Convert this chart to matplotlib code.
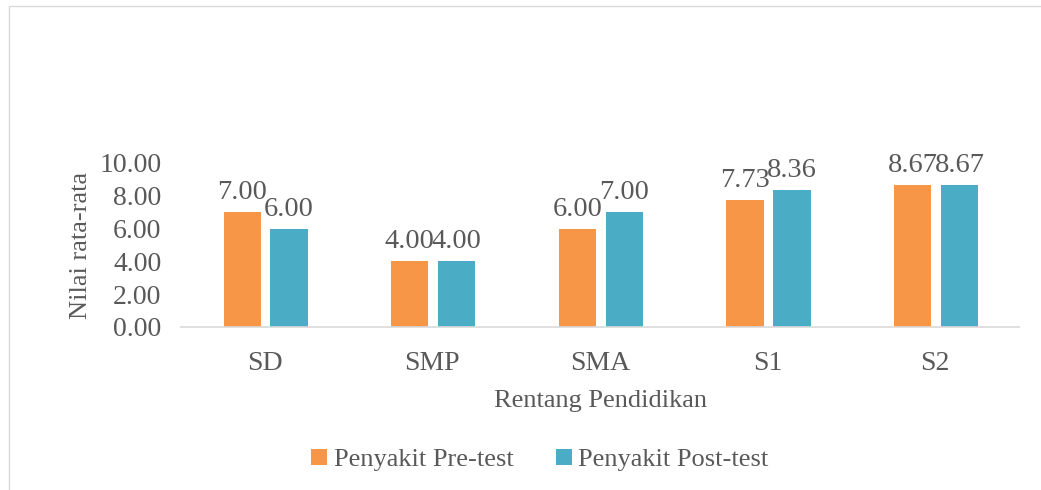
import numpy as np
import matplotlib.pyplot as plt
from matplotlib.patches import Rectangle

# Data
categories = ["SD", "SMP", "SMA", "S1", "S2"]
pre_test = [7.00, 4.00, 6.00, 7.73, 8.67]
post_test = [6.00, 4.00, 7.00, 8.36, 8.67]
y_ticks = [0, 2, 4, 6, 8, 10]

orange = "#F79646"
blue = "#4BACC6"
txt = "#595959"

plt.rcParams['font.family'] = ['Liberation Serif', 'DejaVu Serif']

fig = plt.figure(figsize=(10.41, 4.9), dpi=100)
fig.patches.append(Rectangle((9 / 1041, -0.1), 1.1, 1 - 6 / 490 + 0.1, transform=fig.transFigure,
                             fill=False, edgecolor="#D9D9D9", linewidth=1.0))

# axes placed in pixel terms
left, right, top, bottom = 181, 1019, 163, 327
ax = fig.add_axes([left / 1041, 1 - bottom / 490, (right - left) / 1041, (bottom - top) / 490])

x = np.arange(len(categories))
w = 0.222
b1 = ax.bar(x - 0.135, pre_test, w, color=orange, label="Penyakit Pre-test")
b2 = ax.bar(x + 0.145, post_test, w, color=blue, label="Penyakit Post-test")

for bars, vals in ((b1, pre_test), (b2, post_test)):
    for r, v in zip(bars, vals):
        ax.annotate(f"{v:.2f}", (r.get_x() + r.get_width() / 2, v), xytext=(0, 5),
                    textcoords="offset points", ha="center", va="bottom",
                    fontsize=20.5, color=txt)

ax.set_xlim(-0.5, len(categories) - 0.5)
ax.set_ylim(0, 10)
ax.set_yticks(y_ticks)
ax.set_yticklabels([f"{t:.2f}" for t in y_ticks])
ax.set_xticks(x)
ax.set_xticklabels(categories)
ax.tick_params(axis="both", length=0, labelsize=20, labelcolor=txt)
ax.tick_params(axis="y", pad=14)
ax.tick_params(axis="x", pad=17)

for s in ("top", "right", "left"):
    ax.spines[s].set_visible(False)
ax.spines["bottom"].set_color("#D9D9D9")
ax.spines["bottom"].set_linewidth(1.2)

ax.set_xlabel("Rentang Pendidikan", fontsize=19, color=txt, labelpad=10)
ax.set_ylabel("Nilai rata-rata", fontsize=19, color=txt, labelpad=5)

fig.legend(handles=[b1, b2], loc="center", bbox_to_anchor=(540 / 1041, 1 - 460 / 490),
           ncol=2, frameon=False, fontsize=19, handlelength=0.6, handleheight=0.6,
           handletextpad=0.25, columnspacing=1.6, labelcolor=txt)

fig.savefig("out.png", dpi=100)
